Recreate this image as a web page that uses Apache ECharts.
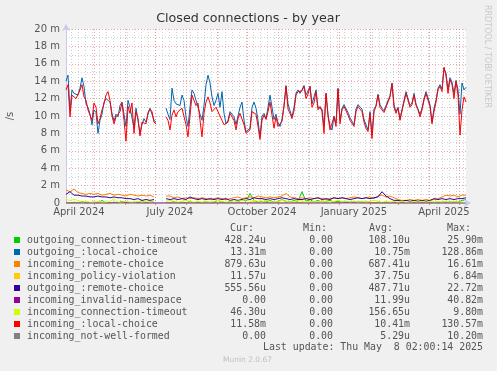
<!DOCTYPE html>
<html><head><meta charset="utf-8">
<script src="https://cdn.jsdelivr.net/npm/echarts@6/dist/echarts.min.js"></script>
<style>html,body{margin:0;padding:0;background:#f0f0f0}#c{width:497px;height:371px}</style>
</head><body><div id="c"></div><script>
// ---- data (values in milli-units, "m") ----
const startTime = Date.UTC(2024, 3, 3, 2, 0, 0);
const endTime = Date.UTC(2025, 4, 8, 2, 0, 0);
const DAY = 86400000;

const seriesNames = [
  'outgoing_connection-timeout', 'outgoing_:local-choice', 'incoming_:remote-choice',
  'incoming_policy-violation', 'outgoing_:remote-choice', 'incoming_invalid-namespace',
  'incoming_connection-timeout', 'incoming_:local-choice', 'incoming_not-well-formed'
];
const seriesColors = ['#00CC00', '#0066B3', '#FF8000', '#FFCC00', '#330099', '#990099', '#CCFF00', '#FF0000', '#808080'];
const curVals = ['428.24u', '13.31m', '879.63u', '11.57u', '555.56u', '0.00', '46.30u', '11.58m', '0.00'];
const minVals = ['0.00', '0.00', '0.00', '0.00', '0.00', '0.00', '0.00', '0.00', '0.00'];
const avgVals = ['108.10u', '10.75m', '687.41u', '37.75u', '487.71u', '11.99u', '156.65u', '10.41m', '5.29u'];
const maxVals = ['25.90m', '128.86m', '16.61m', '6.84m', '22.72m', '40.82m', '9.80m', '130.57m', '10.20m'];
const yTicks = [0, 2, 4, 6, 8, 10, 12, 14, 16, 18, 20];
const monthNames = ['January','February','March','April','May','June','July','August','September','October','November','December'];

// 2-day step
const stepMain = 2;
const redVals = [
 13.0,13.6,9.9,12.4,12.6,12.0,12.2,13.0,13.6,12.2,
 11.8,10.7,10.5,9.5,11.5,11.0,9.1,9.7,10.7,11.4,
 12.4,12.8,11.8,10.0,9.1,9.9,9.7,10.5,11.5,9.5,
 7.1,11.1,10.3,11.5,8.0,10.5,9.7,7.7,9.3,9.5,
 9.1,10.4,10.8,10.5,9.3,9.1,null,null,null,null,
 9.9,9.5,8.4,10.1,10.7,9.9,10.5,10.3,10.9,11.1,
 9.0,7.6,10.0,12.4,12.2,11.2,11.5,9.5,7.6,10.3,
 11.6,12.2,11.5,10.5,10.7,11.0,11.2,10.0,9.5,9.0,
 8.8,9.3,10.3,10.1,9.5,8.4,9.7,10.3,10.1,9.0,
 8.0,7.8,8.4,10.5,10.7,10.2,8.8,7.3,9.5,10.1,
 9.6,10.5,11.6,11.6,8.6,9.9,8.8,8.6,9.4,11.1,
 13.4,10.8,10.3,9.7,10.6,12.4,12.8,12.6,12.9,13.4,
 12.0,12.5,13.4,11.0,11.5,12.8,10.7,11.1,10.5,8.0,
 12.6,10.0,8.4,8.2,9.9,8.8,13.1,9.1,10.7,11.1,
 11.0,10.1,9.5,9.3,8.8,10.5,11.1,11.0,10.5,9.3,
 8.6,8.2,10.3,7.4,10.5,11.1,12.4,11.0,10.7,10.4,
 10.3,11.6,12.2,13.7,11.0,10.3,10.9,9.5,9.5,11.6,
 12.6,11.8,11.0,11.3,12.4,11.2,10.7,9.9,10.7,11.8,
 12.6,11.8,11.1,9.1,10.5,11.6,13.0,13.4,12.8,15.6,
 14.6,12.6,14.2,13.6,12.0,14.0,12.4,7.8,10.7,12.2,
 11.6
];
const blueVals = [
 14.0,14.7,10.7,13.0,12.6,12.8,12.4,13.2,14.4,13.4,
 11.4,11.0,10.2,9.0,10.7,10.4,8.0,9.5,10.2,11.6,
 12.0,12.0,11.6,10.3,9.4,10.2,9.9,11.2,11.6,10.2,
 8.8,11.8,11.0,11.2,8.6,10.9,9.5,8.0,9.0,9.7,
 9.3,10.2,10.9,10.7,9.5,9.3,null,null,null,null,
 10.9,10.2,9.6,13.2,11.8,11.4,11.6,11.2,12.4,11.8,
 9.9,8.8,11.0,13.0,12.6,11.8,11.6,10.2,9.5,11.2,
 13.6,14.7,13.8,12.2,11.2,11.8,12.6,11.0,12.8,10.3,
 9.1,9.5,10.5,10.7,9.9,9.0,10.0,11.0,11.6,9.5,
 8.2,8.0,8.6,11.0,11.6,10.9,9.5,7.6,10.0,10.3,
 9.7,11.0,12.4,12.2,9.6,10.2,9.2,8.8,9.6,11.2,
 13.5,11.4,10.6,9.9,11.0,12.6,13.0,12.6,13.0,13.5,
 12.4,12.2,13.4,11.4,11.2,13.0,11.0,11.2,10.8,8.8,
 12.6,10.2,8.8,8.4,10.0,9.2,13.2,9.5,10.9,11.3,
 11.1,10.4,9.8,9.4,9.0,10.8,11.3,11.3,10.8,9.6,
 9.0,8.4,10.5,7.8,10.8,11.2,12.5,11.3,10.9,10.6,
 10.4,11.8,12.3,13.8,11.3,10.5,11.0,9.7,9.6,11.8,
 12.8,12.0,11.2,11.5,12.6,11.4,10.8,10.2,10.9,12.0,
 12.8,12.1,11.3,9.3,10.9,11.8,13.2,13.6,13.1,15.5,
 14.9,13.1,14.4,13.9,12.6,14.1,13.0,10.2,13.8,13.0,
 13.3
];
// 4-day step
const stepLow = 4;
const orangeVals = [
 1.5,1.3,1.6,1.2,1.1,1.0,1.1,1.0,1.1,0.9,
 1.0,1.1,0.9,1.0,0.9,0.8,1.0,0.9,0.8,0.9,
 0.8,0.9,0.7,null,null,0.8,0.8,0.6,0.7,0.5,
 0.6,0.5,0.6,0.5,0.6,0.5,0.4,0.5,0.6,0.5,
 0.4,0.5,0.6,0.7,0.5,0.6,0.7,0.6,0.8,0.7,
 0.6,0.7,0.6,0.7,0.8,1.1,0.7,0.6,0.5,0.6,
 0.5,0.6,0.5,0.6,0.5,0.4,0.5,0.6,0.5,0.6,
 0.5,0.6,0.7,0.6,0.5,0.6,0.7,0.5,0.8,0.9,
 0.7,0.8,0.6,0.4,0.3,0.3,0.4,0.3,0.4,0.3,
 0.4,0.3,0.4,0.5,0.7,0.9,0.8,0.9,0.7,0.9,
 0.9
];
const purpleVals = [
 1.0,1.3,0.9,0.9,0.8,0.8,0.7,0.7,0.8,0.7,
 0.7,0.6,0.7,0.6,0.6,0.5,0.5,0.4,0.5,0.3,
 0.4,0.3,0.4,null,null,0.5,0.4,0.5,0.4,0.5,
 0.4,0.7,0.5,0.4,0.5,0.4,0.5,0.4,0.5,0.4,
 0.5,0.3,0.4,0.3,0.4,0.5,0.4,0.6,0.5,0.5,
 0.4,0.5,0.4,0.5,0.6,0.5,0.4,0.5,0.4,0.4,
 0.5,0.4,0.5,0.6,0.4,0.5,0.4,0.6,0.5,0.6,
 0.5,0.4,0.5,0.6,0.5,0.6,0.5,0.6,0.7,1.3,
 0.8,0.5,0.3,0.3,0.2,0.3,0.2,0.3,0.2,0.3,
 0.2,0.3,0.5,0.4,0.5,0.4,0.5,0.4,0.5,0.5,
 0.6
];
const yellowGreenVals = [
 0.4,0.3,0.4,0.3,0.1,0.2,0.1,0.1,0.2,0.1,
 0.1,0.2,0.5,0.1,0.1,0.2,0.1,0.1,0.2,0.1,
 0.2,0.1,0.2,null,null,0.2,0.3,0.2,0.1,0.2,
 0.3,0.2,0.1,0.2,0.1,0.2,0.1,0.2,0.3,0.2,
 0.1,0.2,0.1,0.2,0.3,0.4,0.2,0.3,0.2,0.1,
 0.3,0.2,0.1,0.2,0.3,0.2,0.1,0.2,0.3,0.2,
 0.1,0.2,0.1,0.2,0.1,0.2,0.1,0.2,0.3,0.1,
 0.2,0.1,0.2,0.1,0.2,0.1,0.2,0.3,0.2,0.1,
 0.2,0.1,0.2,0.1,0.2,0.1,0.1,0.2,0.1,0.2,
 0.1,0.2,0.1,0.2,0.1,0.2,0.1,0.2,0.1,0.1,
 0.05
];
const greenVals = [
 0.1,0.0,0.1,0.0,0.2,0.0,0.0,0.1,0.0,0.3,
 0.0,0.0,0.1,0.0,0.2,0.0,0.0,0.1,0.0,0.3,
 0.0,0.1,0.2,null,null,0.1,0.0,0.2,0.0,0.1,
 0.0,0.2,0.0,0.1,0.0,0.2,0.0,0.1,0.3,0.1,
 0.0,0.2,0.0,0.1,0.4,0.2,1.1,0.3,0.1,0.2,
 0.1,0.3,0.1,0.2,0.4,0.2,0.1,0.3,0.2,1.3,
 0.2,0.4,0.1,0.3,0.1,0.2,0.3,0.1,0.2,0.1,
 0.2,0.1,0.2,0.1,0.2,0.1,0.1,0.0,0.1,0.0,
 0.1,0.0,0.1,0.0,0.1,0.0,0.1,0.0,0.1,0.0,
 0.1,0.0,0.1,0.0,0.1,0.2,0.1,0.2,0.1,0.3,
 0.4
];
const yellowVals = [
 0.1,0.0,0.0,0.1,0.0,0.0,0.0,0.1,0.0,0.0,
 0.0,0.0,0.1,0.0,0.0,0.0,0.0,0.0,0.1,0.0,
 0.0,0.0,0.0,null,null,0.0,0.1,0.0,0.0,0.0,
 0.0,0.1,0.0,0.0,0.0,0.0,0.1,0.0,0.0,0.2,
 0.0,0.0,0.1,0.0,0.0,0.0,0.0,0.2,0.0,0.6,
 0.1,0.0,0.0,0.0,0.4,0.0,0.0,0.0,0.1,0.0,
 0.0,0.0,0.1,0.0,0.3,0.0,0.0,0.0,0.0,0.1,
 0.0,0.0,0.0,0.1,0.0,0.0,0.0,0.0,0.0,0.0,
 0.0,0.1,0.0,0.0,0.0,0.0,0.0,0.0,0.1,0.0,
 0.0,0.0,0.0,0.1,0.0,0.0,0.0,0.0,0.1,0.0,
 0.0
];
// 20-day step
const stepRare = 20;
const magentaVals = [0,0,0,0.05,0,0,0,0,0,0,0,0,0,0,0.05,0,0,0,0,0,0];
const grayVals = [0,0,0,0,0,0,0,0,0,0,0,0,0,0,0,0,0,0,0,0,0];

const seriesValues = [greenVals, blueVals, orangeVals, yellowVals, purpleVals, magentaVals, yellowGreenVals, redVals, grayVals];
const seriesSteps = [stepLow, stepMain, stepLow, stepLow, stepLow, stepRare, stepLow, stepMain, stepRare];

// ---- axis helpers ----
const monthStarts = [];
for (let y = 2024, m = 3; ; ) {
  const t = Date.UTC(y, m, 1);
  if (t > endTime) break;
  if (t >= startTime) monthStarts.push(t);
  m++; if (m > 11) { m = 0; y++; }
}
const labelDates = [Date.UTC(2024,3,16), Date.UTC(2024,6,16), Date.UTC(2024,9,16), Date.UTC(2025,0,16), Date.UTC(2025,3,16)];
const weekStarts = [];
for (let t = Date.UTC(2024, 3, 8); t <= endTime; t += 7 * DAY) weekStarts.push(t);

const chart = echarts.init(document.getElementById('c'), null, {renderer: 'canvas'});
const FONT = 'DejaVu Sans';
const MONO = 'DejaVu Sans Mono';
const majorLine = {color: 'rgba(230,90,90,0.55)', width: 1, type: [1, 2]};
const minorLine = {color: 'rgba(150,150,150,0.45)', width: 1, type: [1, 2]};
const axisColor = '#c8c8f0';

const series = seriesNames.map((name, k) => ({
  name: name,
  type: 'line',
  xAxisIndex: 0,
  showSymbol: false,
  symbol: 'none',
  connectNulls: false,
  lineStyle: {width: 1, color: seriesColors[k]},
  itemStyle: {color: seriesColors[k]},
  data: seriesValues[k].map((v, i) => [startTime + i * seriesSteps[k] * DAY, v]),
  animation: false
}));

const graphics = [];
graphics.push({type: 'text', x: 248, y: 19, style: {text: 'Closed connections - by year', font: '12.7px "' + FONT + '"', fill: '#333', align: 'center', verticalAlign: 'middle'}});
graphics.push({type: 'text', x: 10, y: 116, rotation: Math.PI / 2, style: {text: '/s', font: '10px "' + FONT + '"', fill: '#555', align: 'center', verticalAlign: 'middle'}});
graphics.push({type: 'text', x: 487, y: 5, rotation: -Math.PI / 2, style: {text: 'RRDTOOL / TOBI OETIKER', font: '8px "' + FONT + '"', fill: '#c8c8c8', align: 'left', verticalAlign: 'middle'}});
const hdrY = 228;
[['Cur:', 230], ['Min:', 303], ['Avg:', 369], ['Max:', 447]].forEach(h => {
  graphics.push({type: 'text', x: h[1], y: hdrY, style: {text: h[0], font: '10px "' + MONO + '"', fill: '#555', align: 'left', verticalAlign: 'middle'}});
});
seriesNames.forEach((name, i) => {
  const ry = 240 + i * 12;
  graphics.push({type: 'rect', shape: {x: 14, y: ry - 3, width: 6, height: 6}, style: {fill: seriesColors[i]}});
  graphics.push({type: 'text', x: 27, y: ry, style: {text: name, font: '9.9px "' + MONO + '"', fill: '#555', align: 'left', verticalAlign: 'middle'}});
  [[curVals[i], 266], [minVals[i], 333], [avgVals[i], 410], [maxVals[i], 483]].forEach(c => {
    graphics.push({type: 'text', x: c[1], y: ry, style: {text: c[0], font: '9.9px "' + MONO + '"', fill: '#555', align: 'right', verticalAlign: 'middle'}});
  });
});
graphics.push({type: 'text', x: 483, y: 347, style: {text: 'Last update: Thu May  8 02:00:14 2025', font: '9.9px "' + MONO + '"', fill: '#555', align: 'right', verticalAlign: 'middle'}});
graphics.push({type: 'text', x: 223, y: 360, style: {text: 'Munin 2.0.67', font: '7.5px "' + FONT + '"', fill: '#c0c0c0', align: 'left', verticalAlign: 'middle'}});

chart.setOption({
  animation: false,
  backgroundColor: '#f0f0f0',
  grid: {left: 66, right: 31, top: 29, bottom: 168, show: true, backgroundColor: '#ffffff', borderWidth: 0},
  xAxis: [
    {
      type: 'value', min: startTime, max: endTime, position: 'bottom',
      axisLine: {show: true, lineStyle: {color: axisColor, width: 1}, symbol: ['none', 'arrow'], symbolSize: [6, 7], symbolOffset: [0, 5]},
      axisTick: {show: true, inside: false, length: 2, customValues: monthStarts, lineStyle: {color: 'rgba(230,90,90,0.7)'}},
      axisLabel: {show: true, customValues: labelDates, margin: 4, color: '#555', fontFamily: FONT, fontSize: 10,
        formatter: function (v) { const d = new Date(v); return monthNames[d.getUTCMonth()] + ' ' + d.getUTCFullYear(); }},
      splitLine: {show: true, lineStyle: majorLine},
      z: 3
    },
    {
      type: 'value', min: startTime, max: endTime, position: 'bottom',
      axisLine: {show: false}, axisLabel: {show: false},
      axisTick: {show: false, customValues: weekStarts},
      splitLine: {show: true, lineStyle: minorLine},
      z: 1
    }
  ],
  yAxis: {
    type: 'value', min: 0, max: 20, interval: 2,
    axisLine: {show: true, lineStyle: {color: axisColor, width: 1}, symbol: ['none', 'arrow'], symbolSize: [6, 7], symbolOffset: [0, 5]},
    axisTick: {show: false},
    axisLabel: {color: '#555', fontFamily: FONT, fontSize: 10, margin: 6,
      formatter: function (v) { return yTicks.indexOf(v) < 0 ? '' : (v === 0 ? '0' : v + ' m'); }},
    splitLine: {show: true, lineStyle: majorLine},
    minorTick: {show: false, splitNumber: 2},
    minorSplitLine: {show: true, lineStyle: minorLine}
  },
  series: series,
  graphic: graphics
});
</script></body></html>
